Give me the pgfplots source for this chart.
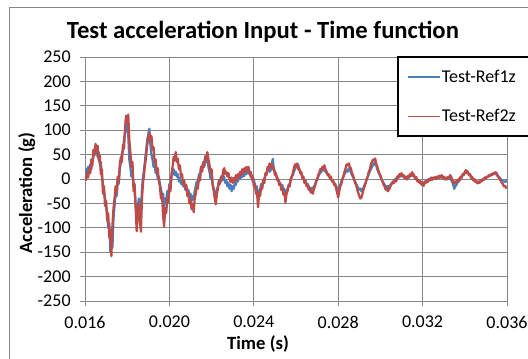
\documentclass[border=0pt]{standalone}
\usepackage{pgfplots}
\usepackage{pgfplotstable}
\pgfplotsset{compat=1.18}
\usepackage{fontspec}
\setmainfont{Carlito}
\definecolor{gridgray}{RGB}{134,134,134}
\definecolor{xlblue}{RGB}{74,126,187}
\definecolor{xlred}{RGB}{190,75,72}
% time in ms, acceleration in g
\pgfplotstableread{
t v
16.00 12
16.05 20
16.10 8
16.15 25
16.20 15
16.25 30
16.30 20
16.35 38
16.40 45
16.45 58
16.50 50
16.55 62
16.60 45
16.65 55
16.70 30
16.75 35
16.80 5
16.85 -10
16.90 -25
16.95 -40
17.00 -55
17.05 -70
17.10 -100
17.15 -90
17.20 -150
17.25 -125
17.30 -140
17.35 -80
17.40 -55
17.45 -30
17.50 -35
17.55 -5
17.60 -10
17.65 20
17.70 35
17.75 50
17.80 60
17.85 80
17.90 95
17.95 130
18.00 105
18.05 90
18.10 40
18.15 25
18.20 5
18.25 15
18.30 -10
18.35 -25
18.40 -50
18.45 -80
18.50 -60
18.55 -40
18.60 -55
18.65 -70
18.70 -20
18.75 5
18.80 20
18.85 40
18.90 60
18.95 80
19.00 92
19.05 103
19.10 70
19.15 50
19.20 40
19.25 25
19.30 30
19.35 12
19.40 18
19.45 0
19.50 5
19.55 -10
19.60 -20
19.65 -35
19.70 -30
19.75 -60
19.80 -40
19.85 -45
19.90 -25
19.95 -30
20.00 -10
20.05 -15
20.10 5
20.15 12
20.20 20
20.25 8
20.30 15
20.35 5
20.40 10
20.45 -5
20.50 2
20.55 -10
20.60 -5
20.65 -15
20.70 -8
20.75 -22
20.80 -15
20.85 -30
20.90 -22
20.95 -38
21.00 -30
21.05 -45
21.10 -35
21.15 -42
21.20 -25
21.25 -15
21.30 -5
21.35 -10
21.40 10
21.45 5
21.50 25
21.55 18
21.60 35
21.65 28
21.70 47
21.75 35
21.80 40
21.85 25
21.90 15
21.95 0
22.00 5
22.05 -12
22.10 -20
22.15 -30
22.20 -38
22.25 -22
22.30 -15
22.35 -2
22.40 -8
22.45 5
22.50 -3
22.55 8
22.60 2
22.65 -8
22.70 -3
22.75 -15
22.80 -8
22.85 -20
22.90 -12
22.95 -25
23.00 -15
23.05 -20
23.10 -8
23.15 -12
23.20 0
23.25 -5
23.30 5
23.35 0
23.40 10
23.45 4
23.50 12
23.55 6
23.60 15
23.65 10
23.70 20
23.75 12
23.80 15
23.85 5
23.90 8
23.95 -5
24.00 0
24.05 -12
24.10 -20
24.15 -15
24.20 -40
24.25 -25
24.30 -22
24.35 -10
24.40 -15
24.45 -2
24.50 0
24.55 8
24.60 10
24.65 16
24.70 22
24.75 15
24.80 18
24.85 30
24.90 41
24.95 20
25.00 15
25.05 8
25.10 5
25.15 -2
25.20 -5
25.25 -10
25.30 -15
25.35 -12
25.40 -25
25.45 -20
25.50 -40
25.55 -28
25.60 -20
25.65 -14
25.70 -10
25.75 -2
25.80 5
25.85 8
25.90 15
25.95 20
26.00 28
26.05 24
26.10 30
26.15 20
26.20 15
26.25 10
26.30 5
26.35 0
26.40 -5
26.45 -2
26.50 -12
26.55 -10
26.60 -15
26.65 -20
26.70 -25
26.75 -18
26.80 -22
26.85 -15
26.90 -12
26.95 -5
27.00 0
27.05 4
27.10 10
27.15 12
27.20 15
27.25 20
27.30 22
27.35 16
27.40 20
27.45 12
27.50 10
27.55 6
27.60 5
27.65 0
27.70 -2
27.75 -5
27.80 -8
27.85 -10
27.90 -15
27.95 -18
28.00 -25
28.05 -18
28.10 -12
28.15 -5
28.20 0
28.25 6
28.30 10
28.35 14
28.40 18
28.45 15
28.50 22
28.55 18
28.60 15
28.65 8
28.70 5
28.75 0
28.80 -5
28.85 -10
28.90 -15
28.95 -18
29.00 -22
29.05 -20
29.10 -25
29.15 -20
29.20 -18
29.25 -12
29.30 -8
29.35 0
29.40 5
29.45 10
29.50 15
29.55 20
29.60 25
29.65 28
29.70 33
29.75 30
29.80 28
29.85 20
29.90 15
29.95 10
30.00 5
30.05 0
30.10 -5
30.15 -8
30.20 -12
30.25 -15
30.30 -18
30.35 -14
30.40 -20
30.45 -15
30.50 -10
30.55 -8
30.60 -5
30.65 -6
30.70 0
30.75 -2
30.80 5
30.85 3
30.90 8
30.95 5
31.00 10
31.05 6
31.10 5
31.15 2
31.20 2
31.25 -1
31.30 5
31.35 3
31.40 8
31.45 6
31.50 10
31.55 7
31.60 5
31.65 2
31.70 2
31.75 -2
31.80 -3
31.85 -6
31.90 -5
31.95 -9
32.00 -8
32.05 -10
32.10 -5
32.15 -6
32.20 -2
32.25 -4
32.30 0
32.35 -2
32.40 3
32.45 1
32.50 0
32.55 3
32.60 2
32.65 0
32.70 5
32.75 3
32.80 3
32.85 6
32.90 6
32.95 2
33.00 2
33.05 -1
33.10 0
33.15 2
33.20 3
33.25 0
33.30 2
33.35 -2
33.40 -5
33.45 -12
33.50 -20
33.55 -15
33.60 -12
33.65 -8
33.70 -5
33.75 -3
33.80 0
33.85 4
33.90 8
33.95 10
34.00 12
34.05 15
34.10 17
34.15 12
34.20 10
34.25 8
34.30 5
34.35 2
34.40 0
34.45 -3
34.50 -5
34.55 -6
34.60 -8
34.65 -5
34.70 -6
34.75 -4
34.80 -3
34.85 -1
34.90 0
34.95 2
35.00 3
35.05 4
35.10 5
35.15 7
35.20 8
35.25 9
35.30 10
35.35 11
35.40 12
35.45 11
35.50 13
35.55 8
35.60 5
35.65 3
35.70 0
35.75 -2
35.80 -3
35.85 -5
35.90 -6
35.95 -4
36.00 -6
}\bluetab
\pgfplotstableread{
t v
16.00 5
16.05 -2
16.10 12
16.15 3
16.20 22
16.25 12
16.30 40
16.35 28
16.40 60
16.45 50
16.50 72
16.55 55
16.60 68
16.65 38
16.70 48
16.75 10
16.80 20
16.85 -30
16.90 -15
16.95 -55
17.00 -45
17.05 -85
17.10 -70
17.15 -120
17.20 -105
17.25 -158
17.30 -95
17.35 -60
17.40 -40
17.45 -15
17.50 -28
17.55 5
17.60 -5
17.65 30
17.70 45
17.75 35
17.80 70
17.85 62
17.90 105
17.95 128
18.00 118
18.05 132
18.10 80
18.15 55
18.20 25
18.25 35
18.30 -25
18.35 -10
18.40 -60
18.45 -107
18.50 -70
18.55 -50
18.60 -85
18.65 -108
18.70 -40
18.75 -8
18.80 10
18.85 30
18.90 48
18.95 70
19.00 85
19.05 95
19.10 80
19.15 88
19.20 60
19.25 65
19.30 35
19.35 40
19.40 15
19.45 22
19.50 -5
19.55 -15
19.60 -40
19.65 -30
19.70 -75
19.75 -97
19.80 -60
19.85 -70
19.90 -40
19.95 -48
20.00 -15
20.05 -25
20.10 10
20.15 25
20.20 45
20.25 38
20.30 55
20.35 35
20.40 42
20.45 20
20.50 28
20.55 5
20.60 10
20.65 -10
20.70 -3
20.75 -20
20.80 -12
20.85 -35
20.90 -28
20.95 -50
21.00 -42
21.05 -62
21.10 -50
21.15 -68
21.20 -40
21.25 -30
21.30 -15
21.35 -20
21.40 5
21.45 -3
21.50 25
21.55 15
21.60 32
21.65 25
21.70 45
21.75 38
21.80 55
21.85 40
21.90 30
21.95 12
22.00 20
22.05 -10
22.10 -25
22.15 -40
22.20 -52
22.25 -30
22.30 -20
22.35 -5
22.40 -10
22.45 5
22.50 0
22.55 18
22.60 22
22.65 10
22.70 15
22.75 5
22.80 12
22.85 0
22.90 -6
22.95 3
23.00 -8
23.05 2
23.10 -5
23.15 8
23.20 -2
23.25 10
23.30 4
23.35 15
23.40 8
23.45 20
23.50 12
23.55 22
23.60 15
23.65 25
23.70 18
23.75 25
23.80 10
23.85 15
23.90 0
23.95 5
24.00 -15
24.05 -10
24.10 -30
24.15 -25
24.20 -58
24.25 -30
24.30 -35
24.35 -15
24.40 -20
24.45 -2
24.50 -8
24.55 12
24.60 8
24.65 25
24.70 20
24.75 32
24.80 25
24.85 30
24.90 20
24.95 22
25.00 8
25.05 12
25.10 -2
25.15 0
25.20 -12
25.25 -8
25.30 -22
25.35 -18
25.40 -32
25.45 -28
25.50 -48
25.55 -30
25.60 -25
25.65 -12
25.70 -15
25.75 0
25.80 5
25.85 12
25.90 22
25.95 30
26.00 25
26.05 32
26.10 20
26.15 22
26.20 12
26.25 15
26.30 2
26.35 5
26.40 -8
26.45 -5
26.50 -15
26.55 -12
26.60 -22
26.65 -18
26.70 -28
26.75 -25
26.80 -30
26.85 -20
26.90 -15
26.95 -5
27.00 -2
27.05 8
27.10 12
27.15 20
27.20 18
27.25 25
27.30 22
27.35 28
27.40 18
27.45 15
27.50 8
27.55 10
27.60 2
27.65 5
27.70 -5
27.75 -2
27.80 -12
27.85 -10
27.90 -20
27.95 -28
28.00 -38
28.05 -25
28.10 -15
28.15 -10
28.20 0
28.25 5
28.30 15
28.35 22
28.40 30
28.45 28
28.50 32
28.55 25
28.60 22
28.65 12
28.70 8
28.75 0
28.80 -8
28.85 -12
28.90 -22
28.95 -28
29.00 -35
29.05 -40
29.10 -38
29.15 -30
29.20 -22
29.25 -15
29.30 -8
29.35 0
29.40 5
29.45 15
29.50 20
29.55 30
29.60 35
29.65 40
29.70 38
29.75 42
29.80 32
29.85 25
29.90 18
29.95 12
30.00 8
30.05 0
30.10 -5
30.15 -12
30.20 -15
30.25 -22
30.30 -20
30.35 -25
30.40 -22
30.45 -18
30.50 -12
30.55 -10
30.60 -5
30.65 -8
30.70 -2
30.75 -5
30.80 5
30.85 2
30.90 10
30.95 8
31.00 12
31.05 5
31.10 8
31.15 2
31.20 5
31.25 0
31.30 6
31.35 3
31.40 10
31.45 6
31.50 14
31.55 10
31.60 8
31.65 0
31.70 4
31.75 -5
31.80 -2
31.85 -8
31.90 -5
31.95 -12
32.00 -8
32.05 -14
32.10 -6
32.15 -8
32.20 -3
32.25 -6
32.30 0
32.35 -3
32.40 2
32.45 -2
32.50 3
32.55 0
32.60 4
32.65 1
32.70 5
32.75 2
32.80 7
32.85 3
32.90 8
32.95 2
33.00 5
33.05 0
33.10 3
33.15 -1
33.20 4
33.25 2
33.30 8
33.35 5
33.40 0
33.45 -8
33.50 -5
33.55 -10
33.60 -4
33.65 -6
33.70 0
33.75 -2
33.80 5
33.85 3
33.90 10
33.95 8
34.00 15
34.05 18
34.10 12
34.15 15
34.20 8
34.25 10
34.30 2
34.35 4
34.40 -3
34.45 0
34.50 -6
34.55 -4
34.60 -9
34.65 -6
34.70 -8
34.75 -3
34.80 -5
34.85 0
34.90 -2
34.95 3
35.00 1
35.05 5
35.10 4
35.15 8
35.20 6
35.25 10
35.30 8
35.35 12
35.40 10
35.45 14
35.50 10
35.55 6
35.60 4
35.65 0
35.70 -3
35.75 -8
35.80 -10
35.85 -15
35.90 -14
35.95 -18
36.00 -15
}\redtab
\begin{document}
\begin{tikzpicture}
\useasboundingbox (0,0) rectangle (396pt,268.5pt);
\draw[gridgray, line width=0.75pt] (6.75pt,-5pt) -- (6.75pt,262.5pt) -- (410pt,262.5pt);
\node[font=\bfseries\fontsize{18.5}{22}\selectfont] at (197.25pt,245pt) {Test acceleration Input - Time function};
\node[font=\bfseries\fontsize{14}{17}\selectfont] at (193.5pt,10.5pt) {Time (s)};
\node[font=\bfseries\fontsize{14}{17}\selectfont, rotate=90] at (20pt,123.75pt) {Acceleration (g)};
\begin{axis}[
  at={(63.75pt,42.75pt)}, anchor=south west,
  scale only axis, width=316.5pt, height=183pt,
  xmin=16, xmax=36, ymin=-250, ymax=250,
  xtick={16,20,24,28,32,36},
  xticklabels={0.016,0.020,0.024,0.028,0.032,0.036},
  ytick={-250,-200,-150,-100,-50,0,50,100,150,200,250},
  yticklabels={-250,-200,-150,-100,-50,0,50,100,150,200,250},
  grid=major, grid style={gridgray, line width=0.75pt},
  axis line style={gridgray, line width=0.75pt},
  tick style={gridgray, line width=0.75pt},
  tick align=outside, tick pos=left, major tick length=3.75pt,
  ticklabel style={font=\fontsize{13.5}{16}\selectfont, text=black},
  yticklabel style={xshift=-3.5pt},
  xticklabel style={yshift=-4pt},
  legend style={at={(rel axis cs:0.739,1.004)}, anchor=north west,
    draw=black, line width=1.5pt, fill=white,
    inner xsep=7pt, inner ysep=8.5pt, row sep=17pt,
    font=\fontsize{13.5}{16}\selectfont,
    nodes={inner sep=1pt}},
  legend cell align=left,
  legend image code/.code={\draw[#1, line width=1pt] (0pt,0pt) -- (24pt,0pt);},
]
\addplot[xlblue, line width=1.7pt, line join=round] table[x=t, y=v] {\bluetab};
\addlegendentry{Test-Ref1z\hspace*{40pt}}
\addplot[xlred, line width=1.7pt, line join=round] table[x=t, y=v] {\redtab};
\addlegendentry{Test-Ref2z\hspace*{40pt}}
\end{axis}
\end{tikzpicture}
\end{document}
